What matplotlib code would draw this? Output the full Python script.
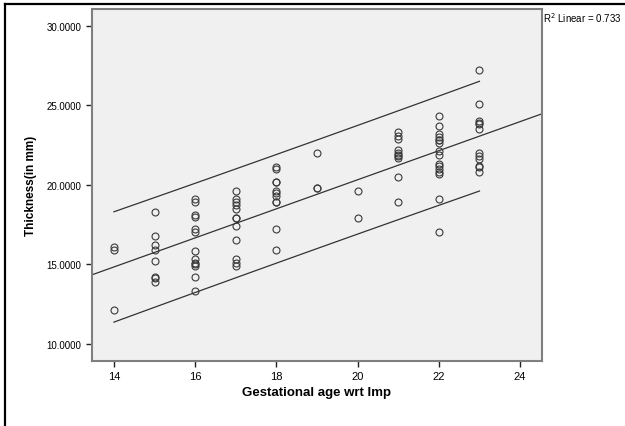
import numpy as np
import matplotlib
matplotlib.use("Agg")
import matplotlib.pyplot as plt
from matplotlib.lines import Line2D

# Data (gestational age vs thickness)
age_14 = [16.1, 15.9, 12.1]
age_15 = [18.3, 16.8, 16.2, 15.9, 15.2, 14.2, 14.1, 13.9]
age_16 = [19.1, 18.9, 18.1, 18.0, 17.2, 17.0, 15.8, 15.3, 15.1, 15.0, 14.9, 14.2, 13.3]
age_17 = [19.6, 19.1, 18.9, 18.7, 18.5, 17.9, 17.9, 17.4, 16.5, 15.3, 15.1, 14.9]
age_18 = [21.1, 21.0, 20.2, 20.2, 19.6, 19.5, 19.3, 18.9, 18.9, 17.2, 15.9]
age_19 = [22.0, 19.8, 19.8]
age_20 = [19.6, 17.9]
age_21 = [23.3, 23.1, 22.9, 22.2, 22.0, 21.9, 21.8, 21.7, 20.5, 18.9]
age_22 = [24.3, 23.7, 23.2, 23.0, 22.85, 22.8, 22.6, 22.1, 21.9, 21.3, 21.2,
          21.0, 20.8, 20.7, 19.1, 17.0]
age_23 = [27.2, 25.1, 24.0, 23.9, 23.8, 23.5, 22.0, 21.8, 21.6, 21.2, 21.1, 20.8]

ages = [14, 15, 16, 17, 18, 19, 20, 21, 22, 23]
groups = [age_14, age_15, age_16, age_17, age_18, age_19, age_20, age_21, age_22, age_23]

x_ticks = [14, 16, 18, 20, 22, 24]
y_ticks = [10, 15, 20, 25, 30]
r2_label = "R$^2$ Linear = 0.733"

x = np.concatenate([[a] * len(g) for a, g in zip(ages, groups)]).astype(float)
y = np.concatenate(groups)

fig = plt.figure(figsize=(6.25, 4.27), dpi=100)
ax = fig.add_axes([92 / 625, 1 - 361.5 / 427, 450 / 625, 351.5 / 427])
ax.set_facecolor("#f0f0f0")

xlim = (13.46, 24.54)
ax.set_xlim(*xlim)
ax.set_ylim(8.93, 31.07)

ax.plot(x, y, linestyle="none", marker="o", markersize=5,
        markerfacecolor="none", markeredgecolor="#3a3a3a", markeredgewidth=0.8)

# Linear fit and prediction interval
slope, intercept = np.polyfit(x, y, 1)
xf = np.linspace(xlim[0], xlim[1], 50)
ax.plot(xf, intercept + slope * xf, color="#333333", lw=0.9)
n = len(x)
resid = y - (intercept + slope * x)
s = np.sqrt(np.sum(resid ** 2) / (n - 2))
xm = x.mean()
sxx = np.sum((x - xm) ** 2)
xp = np.linspace(x.min(), x.max(), 50)
half = 1.99 * s * np.sqrt(1 + 1 / n + (xp - xm) ** 2 / sxx)
ax.plot(xp, intercept + slope * xp + half, color="#333333", lw=0.9)
ax.plot(xp, intercept + slope * xp - half, color="#333333", lw=0.9)

ax.set_xticks(x_ticks)
ax.set_xticklabels([str(t) for t in x_ticks], fontsize=8, family="Liberation Sans")
ax.set_yticks(y_ticks)
ax.set_yticklabels([f"{t:.4f}" for t in y_ticks], fontsize=7, family="Liberation Sans")
ax.tick_params(direction="out", length=4, width=1, color="#222222")
for sp in ax.spines.values():
    sp.set_color("#7f7f7f")
    sp.set_linewidth(1.5)

ax.set_xlabel("Gestational age wrt lmp", fontsize=9.5, fontweight="bold",
              family="Liberation Sans", labelpad=4)
ax.set_ylabel("Thickness(in mm)", fontsize=8.5, fontweight="bold",
              family="Liberation Sans", labelpad=7)

fig.text(543 / 625, 1 - 18 / 427, r2_label, fontsize=7, family="Liberation Sans",
         va="center", ha="left")

# outer frame (top and left)
fig.add_artist(Line2D([5 / 625, 1], [1 - 5 / 427, 1 - 5 / 427], color="black", lw=1.6))
fig.add_artist(Line2D([5 / 625, 5 / 625], [0, 1 - 5 / 427], color="black", lw=1.6))

fig.savefig("out.png", dpi=100)
